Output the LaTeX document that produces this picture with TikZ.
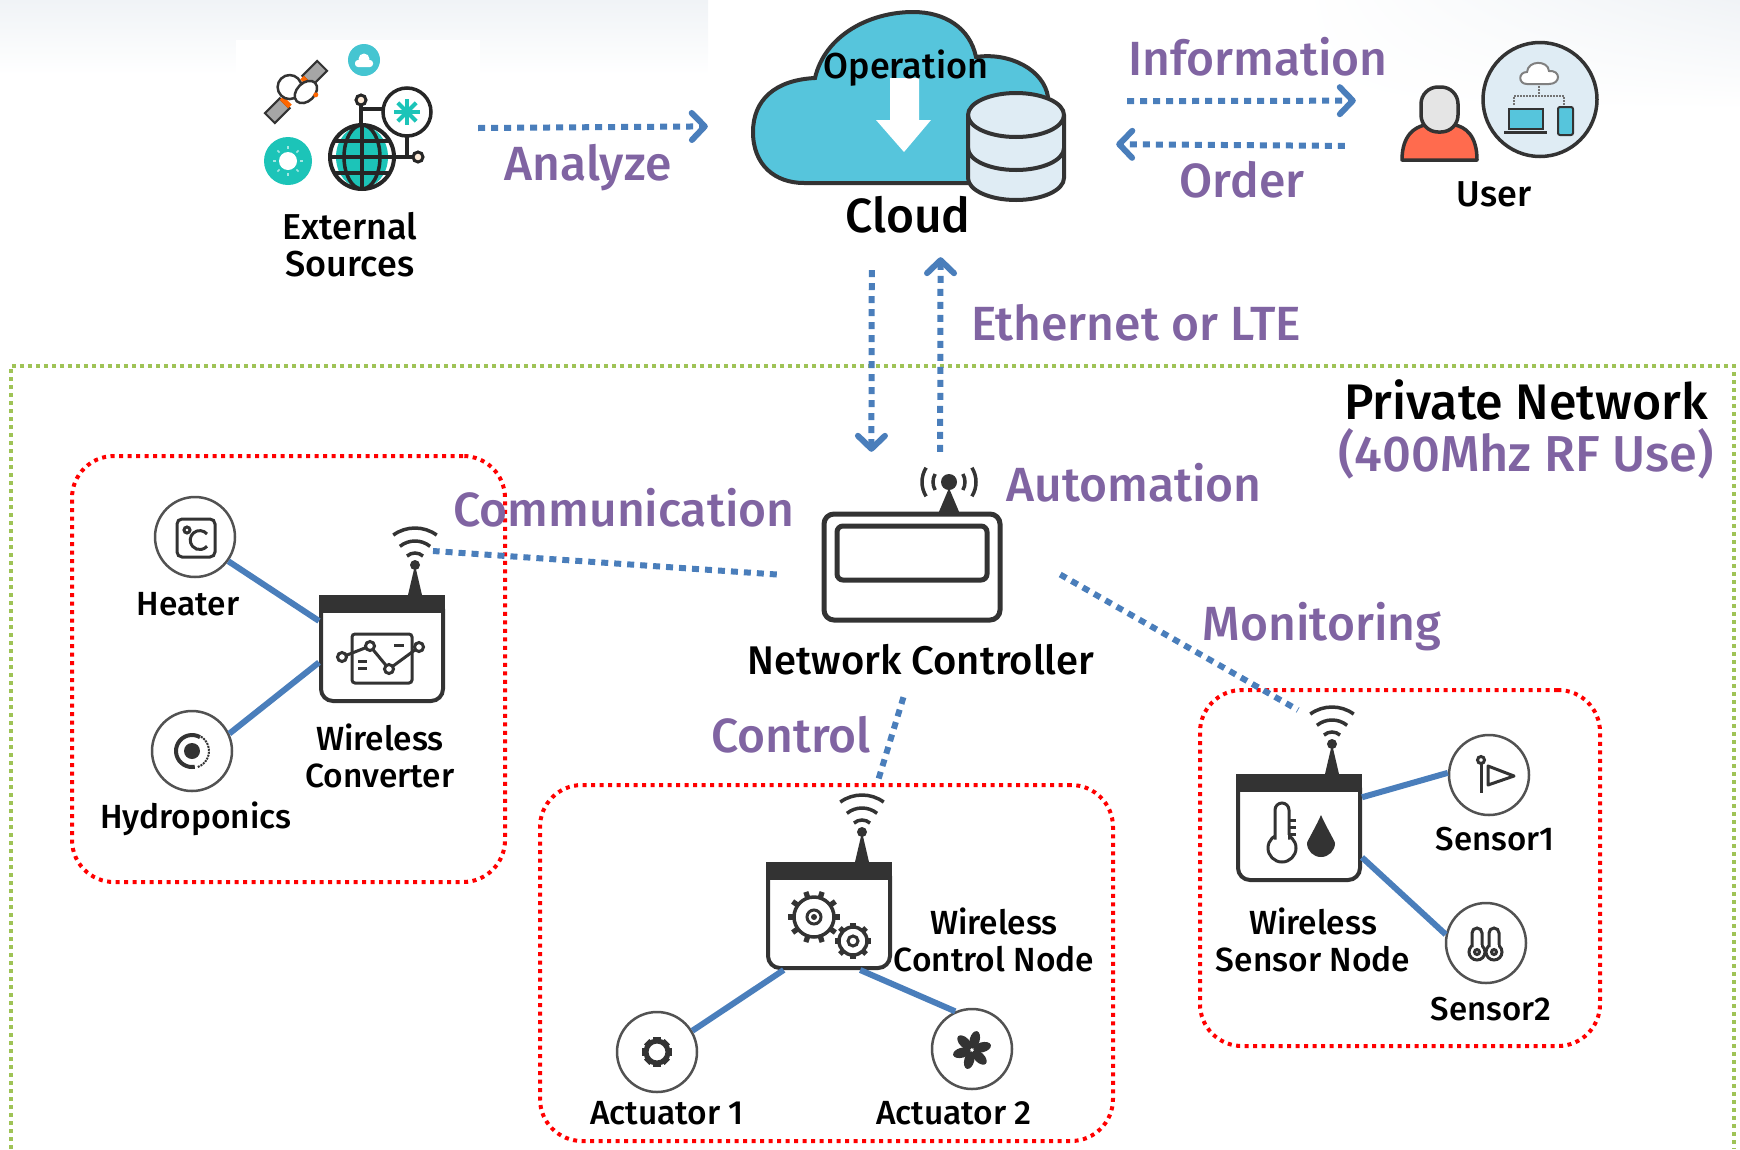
\documentclass[tikz,border=0pt]{standalone}
\usepackage{fontspec}
\usepackage{xcolor}
\setmainfont{Fira Sans Medium}
\usetikzlibrary{arrows.meta, positioning, shapes.geometric, shadings, calc}

\definecolor{tagpurple}{HTML}{8064A2}
\definecolor{linkblue}{HTML}{4A7EBB}
\definecolor{icondark}{HTML}{333333}
\definecolor{cloudcyan}{HTML}{56C5DC}
\definecolor{teal}{HTML}{1CC4B8}
\definecolor{paleblue}{HTML}{DFECF4}
\definecolor{shadegray}{HTML}{F0F3F6}
\definecolor{framegreen}{HTML}{9FC356}
\definecolor{bodyred}{HTML}{FF6B4E}

\tikzset{
    lbl/.style={font=\fontsize{33.5}{37}\selectfont, text=black, align=center, inner sep=0pt},
    tag/.style={font=\fontsize{48}{50}\selectfont, text=tagpurple, align=center, inner sep=0pt},
    holder/.style={rectangle, minimum width=#1, inner sep=0pt},
    devbox/.style={rectangle, draw=icondark, line width=4pt, rounded corners=12pt, fill=white, minimum width=122pt, minimum height=104pt, inner sep=0pt},
    roundicon/.style={circle, draw=icondark!85, line width=2.5pt, fill=white, minimum size=80pt, inner sep=0pt},
    redbox/.style={rectangle, draw=red, line width=4pt, dash pattern=on 4pt off 4.5pt, rounded corners=42pt, inner sep=0pt},
    wire/.style={draw=linkblue, line width=6pt},
    dotline/.style={draw=linkblue, line width=6pt, dash pattern=on 7pt off 6pt},
    dotarrow/.style={dotline, -{Straight Barb[length=13pt, width=27pt, line width=6pt, round]}},
    iconline/.style={draw=icondark, line width=3pt}
}

% wireless box with header and antenna: name, x, y
\newcommand{\wlbox}[3]{
    \node[devbox] (#1) at (#2,#3) {};
    \fill[icondark] (#2-63,#3+54) rectangle (#2+63,#3+36);
    \fill[icondark] (#2+26,#3+54) -- (#2+33,#3+84) -- (#2+40,#3+54) -- cycle;
    \fill[icondark] (#2+33,#3+84) circle (5);
    \foreach \r/\a in {37/36, 24/39, 12/42}
        \draw[icondark, line width=3.5pt] (#2+33,#3+84) ++(90-\a:\r) arc[start angle=90-\a, end angle=90+\a, radius=\r];
}
% gear: x, y, radius, teeth step, line width
\newcommand{\gearicon}[5]{
    \foreach \a in {0,#4,...,359}
        \draw[icondark, line width=#5*1.5] (#1,#2) ++(\a:#3) -- ++(\a:#3*0.32);
    \draw[icondark, line width=#5, fill=white] (#1,#2) circle (#3);
}
% thermometer: x, bulb y, top y, half width, bulb radius
\newcommand{\thermicon}[5]{
    \draw[iconline, fill=white] (#1,#2) circle (#5);
    \draw[iconline, fill=white, rounded corners=#4] (#1-#4,#2+#5*0.6) -- (#1-#4,#3) -- (#1+#4,#3) -- (#1+#4,#2+#5*0.6);
    \fill[white] (#1-#4+1.5,#2) rectangle (#1+#4-1.5,#2+#5*0.9);
}
% water drop: x, bottom y, top y, half width
\newcommand{\dropicon}[4]{
    \fill[icondark] (#1,#3) .. controls (#1+#4*0.3,#3-10) and (#1+#4,#2+#4*1.1) .. (#1+#4,#2+#4) arc[start angle=0, end angle=-180, radius=#4] .. controls (#1-#4,#2+#4*1.1) and (#1-#4*0.3,#3-10) .. (#1,#3) -- cycle;
}

\begin{document}
\begin{tikzpicture}[x=1pt, y=1pt]
\useasboundingbox (0,0) rectangle (1740,-1149);

% Background
\shade[top color=shadegray, bottom color=white] (0,0) rectangle (708,-75);
\fill[white] (236,-40) rectangle (480,-75);
\shade[upper right=shadegray, upper left=white, lower left=white, lower right=white] (1300,0) rectangle (1740,-110);

% Private network frame and groups
\draw[draw=framegreen, line width=4pt, dash pattern=on 4pt off 4pt] (11,-1149) -- (11,-366) -- (1734,-366) -- (1734,-1149);
\node[redbox, minimum width=433pt, minimum height=426pt] (convgroup) at (288.5,-669) {};
\node[redbox, minimum width=573pt, minimum height=356pt] (ctrlgroup) at (826.5,-963) {};
\node[redbox, minimum width=400pt, minimum height=356pt] (sensgroup) at (1400,-868) {};

% Holders for the top icons and the controller
\node[holder=216pt, minimum height=160pt] (ext) at (370,-128) {};
\node[holder=408pt, minimum height=247pt] (cloud) at (912,-133.5) {};
\node[holder=244pt, minimum height=180pt] (user) at (1478,-120) {};
\node[holder=283pt, minimum height=245pt] (ctrl) at (918.5,-574.5) {};

% External sources
\fill[cloudcyan!70!teal] (364,-60) circle (16);
\fill[white, rounded corners=3pt] (355,-67) rectangle (373,-60);
\fill[white] (364,-59) circle (5.5);
\fill[teal] (288,-161) circle (24);
\fill[white] (288,-161) circle (9);
\foreach \a in {0,45,...,315}
    \draw[white!60!teal, line width=1.5pt] (288,-161) ++(\a:12) -- ++(\a:3);
\begin{scope}[shift={(296,-92)}, rotate=45]
    \draw[icondark, line width=2pt, fill=black!35] (-37,-7) rectangle (-16,7);
    \draw[icondark, line width=2pt, fill=black!35] (16,-7) rectangle (37,7);
    \fill[orange!80!red] (-17,-6) rectangle (-12,6);
    \fill[orange!80!red] (12,-6) rectangle (17,6);
    \draw[icondark, line width=2.5pt, fill=white] (-1,8) circle (12);
    \draw[icondark, line width=2.5pt, fill=white] (7,-7) ellipse (13 and 9);
    \fill[orange!80!red] (12,-16) circle (2.5);
\end{scope}
\draw[black!85, line width=3.5pt] (361,-105) -- (361,-126);
\draw[black!85, line width=3.5pt] (361,-109) -- (384,-109);
\draw[black!85, line width=3.5pt] (407,-135) -- (407,-157) (392,-157) -- (413,-157);
\draw[black!85, line width=3pt, fill=orange!15] (361,-100) circle (5);
\draw[black!85, line width=3pt, fill=orange!15] (418,-157) circle (5);
\draw[black!85, line width=3.5pt, fill=white] (407,-112) circle (24);
\foreach \a in {0,45,...,315}
    \draw[teal, line width=4pt] (407,-112) -- ++(\a:13);
\fill[white] (362,-157) circle (32);
\fill[teal] (362,-157) ellipse (26 and 31);
\draw[black!85, line width=4pt] (362,-157) circle (32);
\draw[black!85, line width=3.5pt] (362,-157) ellipse (18 and 32);
\draw[black!85, line width=3.5pt] (362,-125) -- (362,-189) (330,-157) -- (394,-157);
\draw[black!85, line width=3.5pt] (335,-141) -- (389,-141) (335,-173) -- (389,-173);

% Cloud
\draw[draw=icondark, line width=4pt, fill=cloudcyan] (804,-183) -- (1040,-183) -- (1048,-97)
    .. controls (1044,-70) and (1010,-52) .. (976,-57)
    .. controls (970,-28) and (945,-12) .. (913,-12)
    .. controls (870,-12) and (825,-35) .. (815,-78)
    .. controls (775,-80) and (753,-100) .. (753,-132)
    .. controls (753,-165) and (775,-183) .. (804,-183) -- cycle;
\fill[white] (890,-78) -- (919,-78) -- (919,-120) -- (931,-120) -- (904,-152) -- (876,-120) -- (890,-120) -- cycle;
\draw[draw=icondark, line width=4pt, fill=paleblue] (968,-115) -- (968,-178) arc[start angle=180, end angle=360, x radius=48, y radius=22] -- (1064,-115) arc[start angle=0, end angle=180, x radius=48, y radius=22] -- cycle;
\draw[draw=icondark, line width=4pt] (968,-115) arc[start angle=180, end angle=360, x radius=48, y radius=22];
\draw[draw=icondark, line width=4pt] (968,-148) arc[start angle=180, end angle=360, x radius=48, y radius=22];

% User
\draw[draw=icondark, line width=3.5pt, fill=paleblue] (1540,-99.5) circle (57);
\draw[draw=icondark, line width=3.5pt, fill=bodyred, line join=round] (1402,-160) .. controls (1402,-135) and (1415,-127) .. (1425,-125) -- (1455,-125) .. controls (1465,-127) and (1477,-135) .. (1477,-160) -- cycle;
\draw[draw=icondark, line width=3.5pt, fill=black!10, rounded corners=17pt] (1421,-132) rectangle (1458,-87);
\draw[draw=black!50, line width=2pt, fill=white] (1527,-84) .. controls (1518,-84) and (1518,-72) .. (1527,-72) .. controls (1528,-60) and (1548,-60) .. (1549,-71) .. controls (1561,-70) and (1561,-84) .. (1549,-84) -- cycle;
\draw[draw=black!55, line width=2pt, densely dotted] (1539,-86) -- (1539,-96) (1514,-105) -- (1514,-96) -- (1564,-96) -- (1564,-105);
\draw[draw=icondark, line width=2pt, fill=cloudcyan] (1509,-109) rectangle (1543,-129);
\draw[draw=icondark, line width=3pt] (1504,-132) -- (1547,-132);
\draw[draw=icondark, line width=2pt, fill=cloudcyan, rounded corners=2pt] (1558,-107) rectangle (1573,-135);

% Network controller
\fill[icondark] (938,-514) -- (949,-488) -- (960,-514) -- cycle;
\fill[icondark] (949,-482) circle (8);
\foreach \r/\a in {16/30, 27/32} {
    \draw[icondark, line width=3.5pt] (949,-482) ++(-\a:\r) arc[start angle=-\a, end angle=\a, radius=\r];
    \draw[icondark, line width=3.5pt] (949,-482) ++(180-\a:\r) arc[start angle=180-\a, end angle=180+\a, radius=\r];
}
\draw[draw=icondark, line width=5pt, fill=white, rounded corners=10pt] (824,-514) rectangle (1000,-620);
\draw[draw=icondark, line width=5pt, rounded corners=6pt] (837,-526) rectangle (987,-580);

% Wireless converter
\node[roundicon] (heater) at (195,-537) {};
\node[roundicon] (hydro) at (192,-751) {};
\wlbox{conv}{382}{-649}
\draw[iconline, rounded corners=5pt] (177,-519) rectangle (215,-557);
\draw[iconline] (187,-530) circle (3);
\draw[iconline] (207,-534) arc[start angle=40, end angle=320, radius=9.5];
\draw[icondark, line width=4pt] (192,-751) ++(60:16) arc[start angle=60, end angle=280, radius=16];
\draw[icondark, line width=2pt, densely dotted] (192,-751) ++(-70:17) arc[start angle=-70, end angle=60, radius=17];
\fill[icondark] (192,-751) circle (8);
\draw[iconline, rounded corners=3pt] (352,-634) rectangle (412,-683);
\draw[iconline] (342,-657) -- (370,-646) -- (389,-669) -- (419,-647);
\foreach \px/\py in {342/-657, 370/-646, 389/-669, 419/-647}
    \draw[iconline, fill=white] (\px,\py) circle (4.5);
\draw[iconline] (394,-645) -- (404,-645) (358,-661) -- (367,-661) (358,-668) -- (367,-668);

% Wireless control node
\node[roundicon] (actone) at (657,-1052) {};
\node[roundicon] (acttwo) at (972,-1049) {};
\wlbox{ctrlnode}{829}{-916}
\gearicon{814}{-917}{20}{36}{3.5}
\draw[iconline] (814,-917) circle (7);
\fill[icondark] (814,-917) circle (3);
\gearicon{853}{-941}{14}{45}{3.5}
\draw[iconline] (853,-941) circle (5);
\gearicon{657}{-1052}{11}{45}{5}
\foreach \a in {0,60,...,300}
    \fill[icondark, shift={(972,-1050)}, rotate=\a+15] (10.5,0) ellipse[x radius=9, y radius=5];

% Wireless sensor node
\node[roundicon] (sensone) at (1489,-775) {};
\node[roundicon] (senstwo) at (1486,-943) {};
\wlbox{sensnode}{1299}{-828}
\thermicon{1282}{-848}{-803}{7}{14}
\draw[iconline] (1290,-820) -- (1296,-820) (1290,-827) -- (1296,-827) (1290,-834) -- (1296,-834);
\dropicon{1321}{-857}{-815}{14}
\draw[iconline] (1481,-762) -- (1481,-793);
\draw[iconline] (1481,-760) circle (3.5);
\draw[iconline, line join=round] (1488,-766) -- (1514,-776) -- (1488,-785) -- cycle;
\thermicon{1477}{-952}{-928}{5}{8}
\thermicon{1494}{-952}{-928}{5}{8}
\draw[iconline] (1477,-952) circle (2.5) (1494,-952) circle (2.5);

% Wires
\draw[wire] (heater.-36) -- (conv.156);
\draw[wire] (hydro.25) -- (conv.192);
\draw[wire] (actone.31) -- (ctrlnode.-130);
\draw[wire] (acttwo.114) -- (ctrlnode.-60);
\draw[wire] (sensone.177) -- (sensnode.26);
\draw[wire] (senstwo.168) -- (sensnode.-25);

% Links
\coordinate (convtip) at (433,-551);
\coordinate (ctrltip) at (877,-784);
\coordinate (senstip) at (1298,-710);
\draw[dotarrow] (ext.east) -- (cloud.178.5);
\draw[dotarrow, shorten <=11pt] (cloud.9) -- (user.171);
\draw[dotarrow, shorten <=11pt] (user.192) -- (cloud.-3.5);
\draw[dotarrow, shorten <=13pt] (cloud.-108.8) -- (ctrl.111);
\draw[dotarrow] (ctrl.80.5) -- (cloud.-77.7);
\draw[dotline] (ctrl.west) -- (convtip);
\draw[dotline] (ctrl.east) -- (senstip);
\draw[dotline] (ctrl.-97.7) -- (ctrltip);

% Black labels
\node[lbl, font=\fontsize{36}{37}\selectfont] (extlbl) at (350,-245) {External\\Sources};
\node[lbl, font=\fontsize{36}{36}\selectfont] (oplbl) at (906,-68) {Operation};
\node[lbl, font=\fontsize{48}{48}\selectfont] (cloudlbl) at (908,-215) {Cloud};
\node[lbl, font=\fontsize{36}{36}\selectfont] (userlbl) at (1494,-194) {User};
\node[lbl, font=\fontsize{50}{50}\selectfont] (privlbl) at (1526,-400) {Private Network};
\node[lbl, font=\fontsize{40}{40}\selectfont] (ctrllbl) at (921,-660) {Network Controller};
\node[lbl] (heaterlbl) at (188,-604) {Heater};
\node[lbl] (hydrolbl) at (196,-819) {Hydroponics};
\node[lbl] (convlbl) at (380,-756) {Wireless\\Converter};
\node[lbl] (ctrlnodelbl) at (994,-940) {Wireless\\Control Node};
\node[lbl] (actonelbl) at (667,-1113) {Actuator 1};
\node[lbl] (acttwolbl) at (954,-1113) {Actuator 2};
\node[lbl] (sensnodelbl) at (1313,-940) {Wireless\\Sensor Node};
\node[lbl, font=\fontsize{33}{33}\selectfont] (sensonelbl) at (1495,-839) {Sensor1};
\node[lbl, font=\fontsize{33}{33}\selectfont] (senstwolbl) at (1491,-1009) {Sensor2};

% Purple labels
\node[tag] (anlz) at (588,-168) {Analyze};
\node[tag] (info) at (1258,-57) {Information};
\node[tag] (order) at (1242,-180) {Order};
\node[tag] (eth) at (1136,-323) {Ethernet or LTE};
\node[tag, font=\fontsize{50.5}{51}\selectfont] (rfuse) at (1526,-454) {(400Mhz RF Use)};
\node[tag] (comm) at (624,-508) {Communication};
\node[tag] (auto) at (1134,-483) {Automation};
\node[tag] (monit) at (1322,-627) {Monitoring};
\node[tag] (ctrltag) at (791,-735) {Control};

\end{tikzpicture}
\end{document}
